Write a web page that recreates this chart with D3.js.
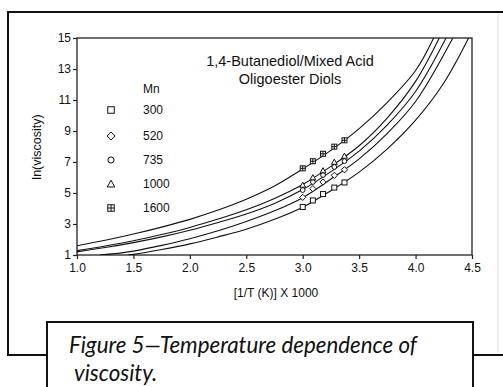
<!DOCTYPE html>
<html>
<head>
<meta charset="utf-8">
<script src="https://cdn.jsdelivr.net/npm/d3@7"></script>
<style>
  html, body { margin: 0; padding: 0; background: #fff; }
  svg { display: block; }
  text { font-family: "Liberation Sans", Arial, sans-serif; fill: #111; }
</style>
</head>
<body>
<svg id="chart" width="503" height="387"></svg>
<script>
// Axis ticks
const xTicks = [1.0, 1.5, 2.0, 2.5, 3.0, 3.5, 4.0, 4.5];
const yTicks = [1, 3, 5, 7, 9, 11, 13, 15];

// Molecular weight series (Mn)
const mnLabels = ["300", "520", "735", "1000", "1600"];

// Measured points: 1/T x 1000 and ln(viscosity) per Mn
const invTemp = [3.0, 3.09, 3.18, 3.28, 3.37];
const lnVisc300 = [4.10, 4.52, 4.93, 5.35, 5.68];
const lnVisc520 = [4.72, 5.28, 5.71, 6.14, 6.50];
const lnVisc735 = [5.19, 5.71, 6.16, 6.68, 7.06];
const lnVisc1000 = [5.52, 6.00, 6.45, 7.00, 7.39];
const lnVisc1600 = [6.59, 7.05, 7.53, 7.99, 8.40];

// Fitted curves, [1/T x 1000, ln(viscosity)]
const fit300 = [[1.45,1.0],[1.5,1.04],[1.75,1.35],[2.0,1.72],[2.25,2.17],[2.5,2.66],[2.75,3.3],[3.0,4.08],[3.25,5.15],[3.5,6.35],[3.75,7.85],[4.0,9.7],[4.25,12.1],[4.47,15]];
const fit520 = [[1.2,1.0],[1.38,1.12],[1.5,1.25],[1.75,1.62],[2.0,2.05],[2.25,2.56],[2.5,3.16],[2.75,3.85],[3.0,4.7],[3.25,5.9],[3.5,7.2],[3.75,8.85],[4.0,10.9],[4.33,15]];
const fit735 = [[1.0,1.2],[1.25,1.48],[1.5,1.8],[1.75,2.17],[2.0,2.6],[2.25,3.1],[2.5,3.65],[2.75,4.33],[3.0,5.22],[3.25,6.38],[3.5,7.7],[3.75,9.4],[4.0,11.55],[4.27,15]];
const fit1000 = [[1.0,1.28],[1.25,1.58],[1.5,1.92],[1.75,2.32],[2.0,2.78],[2.25,3.32],[2.5,3.92],[2.75,4.65],[3.0,5.55],[3.25,6.72],[3.5,8.05],[3.75,9.85],[4.0,12.2],[4.21,15]];
const fit1600 = [[1.0,1.6],[1.25,1.95],[1.5,2.35],[1.75,2.8],[2.0,3.3],[2.25,3.9],[2.5,4.6],[2.75,5.45],[3.0,6.55],[3.25,7.75],[3.5,9.15],[3.75,10.85],[4.0,12.9],[4.16,15]];

const series = [
  { label: mnLabels[0], values: lnVisc300, fit: fit300, shape: "square" },
  { label: mnLabels[1], values: lnVisc520, fit: fit520, shape: "diamond" },
  { label: mnLabels[2], values: lnVisc735, fit: fit735, shape: "circle" },
  { label: mnLabels[3], values: lnVisc1000, fit: fit1000, shape: "triangle" },
  { label: mnLabels[4], values: lnVisc1600, fit: fit1600, shape: "boxplus" }
];

const svg = d3.select("#chart");
const plot = { left: 77, right: 472, top: 38, bottom: 255 };

const x = d3.scaleLinear().domain([1.0, 4.5]).range([plot.left, plot.right]);
const y = d3.scaleLinear().domain([1, 15]).range([plot.bottom, plot.top]);

// Page frame
const frame = svg.append("g").attr("fill", "none").attr("stroke", "#111").attr("stroke-width", 2);
frame.append("path").attr("d", "M503,12 H8 V355 H47");
frame.append("path").attr("d", "M473,355 H503");
svg.append("line").attr("x1", 498).attr("x2", 498).attr("y1", 14).attr("y2", 352)
  .attr("stroke", "#ddd").attr("stroke-width", 1);

// Caption box
svg.append("rect").attr("x", 47).attr("y", 322).attr("width", 426).attr("height", 80)
  .attr("fill", "#fff").attr("stroke", "#111").attr("stroke-width", 2);

const cap1 = svg.append("text").attr("x", 69).attr("y", 353)
  .style("font-family", "Lato, 'Open Sans', sans-serif").style("font-style", "italic")
  .style("font-size", "20px").text("Figure 5\u2014Temperature dependence of");
const w = cap1.node().getComputedTextLength();
const capSize = 20 * 348 / w;
cap1.style("font-size", capSize + "px");
svg.append("text").attr("x", 74).attr("y", 381)
  .style("font-family", "Lato, 'Open Sans', sans-serif").style("font-style", "italic")
  .style("font-size", capSize + "px").text("viscosity.");

// Plot box
svg.append("rect").attr("x", plot.left).attr("y", plot.top)
  .attr("width", plot.right - plot.left).attr("height", plot.bottom - plot.top)
  .attr("fill", "none").attr("stroke", "#222").attr("stroke-width", 1.3);

// Axes
const xAxis = d3.axisBottom(x).tickValues(xTicks).tickFormat(d3.format(".1f")).tickSize(4).tickPadding(4);
const yAxis = d3.axisLeft(y).tickValues(yTicks).tickFormat(d3.format("d")).tickSize(4).tickPadding(2);

const gx = svg.append("g").attr("transform", `translate(0,${plot.bottom})`).call(xAxis);
const gy = svg.append("g").attr("transform", `translate(${plot.left},0)`).call(yAxis);
[gx, gy].forEach(g => {
  g.select(".domain").remove();
  g.selectAll(".tick line").attr("stroke", "#222").attr("stroke-width", 1.2);
  g.selectAll(".tick text").style("font-size", "12px").style("font-family", "'Liberation Sans', Arial, sans-serif").attr("fill", "#111");
});

// Axis titles
svg.append("text").attr("x", 276).attr("y", 297).attr("text-anchor", "middle")
  .style("font-size", "12px").text("[1/T (K)] X 1000");
svg.append("text").attr("transform", "translate(41,147) rotate(-90)").attr("text-anchor", "middle")
  .style("font-size", "12.5px").text("ln(viscosity)");

// Chart title
svg.append("text").attr("x", 290).attr("y", 66).attr("text-anchor", "middle")
  .style("font-size", "14.5px").text("1,4-Butanediol/Mixed Acid");
svg.append("text").attr("x", 290).attr("y", 84).attr("text-anchor", "middle")
  .style("font-size", "14.5px").text("Oligoester Diols");

// Fitted curves, clipped to the plot
svg.append("clipPath").attr("id", "plotclip").append("rect")
  .attr("x", plot.left).attr("y", plot.top)
  .attr("width", plot.right - plot.left).attr("height", plot.bottom - plot.top);

const line = d3.line().x(d => x(d[0])).y(d => y(d[1])).curve(d3.curveCatmullRom.alpha(0.5));
svg.append("g").attr("clip-path", "url(#plotclip)")
  .selectAll("path").data(series).join("path")
  .attr("d", d => line(d.fit))
  .attr("fill", "none").attr("stroke", "#111").attr("stroke-width", 1.1);

// Marker drawing
function marker(g, shape, s) {
  const h = s / 2;
  g.attr("fill", "#fff").attr("stroke", "#111").attr("stroke-width", 1);
  if (shape === "square") {
    g.append("rect").attr("x", -h).attr("y", -h).attr("width", s).attr("height", s);
  } else if (shape === "diamond") {
    const r = h * 1.25;
    g.append("path").attr("d", `M0,${-r}L${r},0L0,${r}L${-r},0Z`);
  } else if (shape === "circle") {
    g.append("circle").attr("r", h * 0.95);
  } else if (shape === "triangle") {
    const r = h * 1.15;
    g.append("path").attr("d", `M0,${-r}L${r},${r * 0.8}L${-r},${r * 0.8}Z`);
  } else if (shape === "boxplus") {
    g.append("rect").attr("x", -h).attr("y", -h).attr("width", s).attr("height", s);
    g.append("path").attr("d", `M${-h},0H${h}M0,${-h}V${h}`);
  }
}

// Data points
series.forEach(sr => {
  sr.values.forEach((v, i) => {
    const g = svg.append("g").attr("transform", `translate(${x(invTemp[i])},${y(v)})`);
    marker(g, sr.shape, 5);
  });
});

// Legend
svg.append("text").attr("x", 143).attr("y", 93).style("font-size", "12px").text("Mn");
const legendY = [110, 136, 160, 184, 208];
series.forEach((sr, i) => {
  const g = svg.append("g").attr("transform", `translate(111,${legendY[i]})`);
  marker(g, sr.shape, 6.5);
  svg.append("text").attr("x", 143).attr("y", legendY[i] + 4).style("font-size", "12px").text(sr.label);
});
</script>
</body>
</html>
